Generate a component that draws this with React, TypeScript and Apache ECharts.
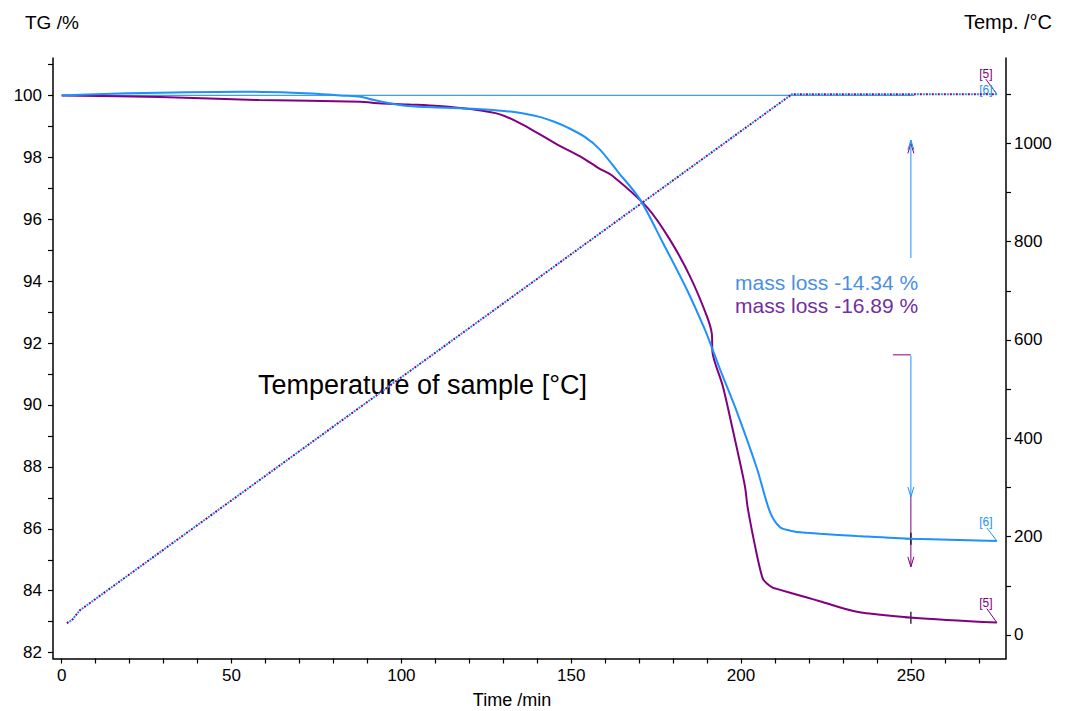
import React, { useEffect, useRef } from "react";
import * as echarts from "echarts";

// Sample [6] (blue) TG curve
const sample6Time = [0, 10, 29, 53, 68, 76, 82, 88, 92, 97, 102, 111, 121, 131, 136, 141, 145, 149, 154, 158.4, 164, 170.2, 176.9, 184, 189.3, 191.6, 194, 198.8, 204.7, 208.5, 211.4, 214.4, 216.4, 219.4, 223.2, 234.1, 250.6, 275.3];
const sample6TG = [100.0, 100.04, 100.09, 100.12, 100.09, 100.05, 100.0, 99.96, 99.85, 99.74, 99.66, 99.61, 99.57, 99.49, 99.42, 99.3, 99.15, 98.96, 98.66, 98.26, 97.5, 96.65, 95.26, 93.74, 92.45, 91.8, 91.1, 89.77, 87.94, 86.55, 86.06, 85.94, 85.9, 85.87, 85.84, 85.77, 85.68, 85.61];

// Sample [5] (purple) TG curve
const sample5Time = [0, 29, 58, 88, 92, 102, 111, 121, 129, 135.7, 145.8, 152.5, 158.4, 162.2, 172.3, 179, 184.9, 189.9, 191.4, 191.6, 194.6, 197.5, 201.1, 202, 204.7, 206.4, 207.6, 209.3, 210.5, 219.4, 223.2, 234.1, 250.6, 275.3];
const sample5TG = [100.0, 99.95, 99.85, 99.8, 99.76, 99.71, 99.66, 99.55, 99.39, 99.06, 98.42, 98.04, 97.63, 97.4, 96.39, 95.35, 94.17, 92.88, 92.3, 91.7, 90.62, 89.23, 87.4, 86.65, 85.14, 84.39, 84.23, 84.1, 84.06, 83.78, 83.66, 83.32, 83.13, 82.97];

// Temperature of sample
const tempTime = [1.5, 3, 5.3, 215, 275.3];
const tempValue = [24, 30, 50, 1100, 1100];

// 100 % reference line
const baselineTime = [0, 251];
const baselineTG = [100, 100];

// Axis ticks and labels
const timeLabelValues = [0, 50, 100, 150, 200, 250];
const timeTickValues = [0, 10, 20, 30, 40, 50, 60, 70, 80, 90, 100, 110, 120, 130, 140, 150, 160, 170, 180, 190, 200, 210, 220, 230, 240, 250, 260, 270];
const tgLabelValues = [82, 84, 86, 88, 90, 92, 94, 96, 98, 100];
const tgTickValues = [82, 83, 84, 85, 86, 87, 88, 89, 90, 91, 92, 93, 94, 95, 96, 97, 98, 99, 100, 101];
const tempLabelValues = [0, 200, 400, 600, 800, 1000];
const tempTickValues = [0, 100, 200, 300, 400, 500, 600, 700, 800, 900, 1000, 1100];

// Annotations
const massLossTexts = ["mass loss -14.34 %", "mass loss -16.89 %"];
const sampleIds = ["[6]", "[5]"];
const markerTime = 250;
const arrow6Levels = [98.56, 94.75, 91.59, 87.03];
const arrow5Levels = [98.45, 91.62, 87.03, 84.77];
const arrow5StubTime = 244.7;
const crossTG = [85.68, 83.13];

const BLUE = "#1E90FF";
const PURPLE = "#800080";
const FONT = "Liberation Sans, Arial, sans-serif";

const zip = (a: number[], b: number[]) => a.map((v, i) => [v, b[i]]);

export default function App() {
  const ref = useRef<HTMLDivElement>(null);
  useEffect(() => {
    if (!ref.current) return;
    const chart = echarts.init(ref.current, null, { renderer: "svg" });
    const axisLabelStyle = { color: "#000", fontSize: 17, fontFamily: FONT, formatter: (v: number) => String(v) };
    chart.setOption({
      animation: false,
      backgroundColor: "#fff",
      grid: { left: 53, right: 61, top: 58, bottom: 52.5, containLabel: false },
      xAxis: {
        type: "value",
        min: -2.56,
        max: 278,
        splitLine: { show: false },
        axisLine: { show: true, onZero: false, lineStyle: { color: "#000", width: 1.5 } },
        axisTick: { show: true, length: 5, customValues: timeTickValues, lineStyle: { color: "#000", width: 1.2 } },
        axisLabel: { ...axisLabelStyle, margin: 8, customValues: timeLabelValues },
      },
      yAxis: [
        {
          type: "value",
          position: "left",
          min: 81.81,
          max: 101.21,
          splitLine: { show: false },
          axisLine: { show: true, onZero: false, lineStyle: { color: "#000", width: 1.5 } },
          axisTick: { show: true, length: 5, customValues: tgTickValues, lineStyle: { color: "#000", width: 1.2 } },
          axisLabel: { ...axisLabelStyle, margin: 11, customValues: tgLabelValues },
        },
        {
          type: "value",
          position: "right",
          min: -47.8,
          max: 1173.5,
          splitLine: { show: false },
          axisLine: { show: true, onZero: false, lineStyle: { color: "#000", width: 1.5 } },
          axisTick: { show: true, length: 5, customValues: tempTickValues, lineStyle: { color: "#000", width: 1.2 } },
          axisLabel: { ...axisLabelStyle, margin: 8, customValues: tempLabelValues },
        },
      ],
      series: [
        {
          type: "line",
          name: "baseline",
          data: zip(baselineTime, baselineTG),
          showSymbol: false,
          silent: true,
          lineStyle: { color: "#3D9BFF", width: 1.3 },
        },
        {
          type: "line",
          name: "temp5",
          yAxisIndex: 1,
          data: zip(tempTime, tempValue),
          showSymbol: false,
          silent: true,
          lineStyle: { color: PURPLE, width: 2, type: [2, 4], dashOffset: 0 },
        },
        {
          type: "line",
          name: "temp6",
          yAxisIndex: 1,
          data: zip(tempTime, tempValue),
          showSymbol: false,
          silent: true,
          lineStyle: { color: BLUE, width: 2, type: [2, 4], dashOffset: 3 },
        },
        {
          type: "line",
          name: "TG5",
          data: zip(sample5Time, sample5TG),
          showSymbol: false,
          silent: true,
          smooth: 0.3,
          lineStyle: { color: PURPLE, width: 2 },
        },
        {
          type: "line",
          name: "TG6",
          data: zip(sample6Time, sample6TG),
          showSymbol: false,
          silent: true,
          smooth: 0.3,
          lineStyle: { color: BLUE, width: 2 },
        },
      ],
    });

    const px = (t: number, v: number, axis = 0) =>
      chart.convertToPixel({ xAxisIndex: 0, yAxisIndex: axis }, [t, v]) as number[];
    const line = (a: number[], b: number[], color: string, w = 1) => ({
      type: "line",
      shape: { x1: a[0], y1: a[1], x2: b[0], y2: b[1] },
      style: { stroke: color, lineWidth: w },
      silent: true,
    });
    const chevron = (p: number[], dir: number, color: string) => ({
      type: "polyline",
      shape: { points: [[p[0] - 3, p[1] + dir * 10], [p[0], p[1]], [p[0] + 3, p[1] + dir * 10]] },
      style: { stroke: color, lineWidth: 1, fill: "none" },
      silent: true,
    });
    const cross = (p: number[]) => [
      line([p[0] - 6, p[1]], [p[0] + 6, p[1]], "#000", 1.2),
      line([p[0], p[1] - 6], [p[0], p[1] + 6], "#000", 1.2),
    ];
    const text = (x: number, y: number, s: string, color: string, size: number, align = "left") => ({
      type: "text",
      x,
      y,
      silent: true,
      style: { text: s, fill: color, fontSize: size, fontFamily: FONT, textAlign: align, textVerticalAlign: "middle" },
    });

    const a6top = px(markerTime, arrow6Levels[0]);
    const a6start = px(markerTime, arrow6Levels[1]);
    const a6down = px(markerTime, arrow6Levels[2]);
    const a6end = px(markerTime, arrow6Levels[3]);
    const a5top = px(markerTime, arrow5Levels[0]);
    const a5stubL = px(arrow5StubTime, arrow5Levels[1]);
    const a5stubR = px(markerTime, arrow5Levels[1]);
    const a5start = px(markerTime, arrow5Levels[2]);
    const a5end = px(markerTime, arrow5Levels[3]);
    const c6 = px(markerTime, crossTG[0]);
    const c5 = px(markerTime, crossTG[1]);
    const e6 = px(sample6Time[sample6Time.length - 1], sample6TG[sample6TG.length - 1]);
    const e5 = px(sample5Time[sample5Time.length - 1], sample5TG[sample5TG.length - 1]);
    const eT = px(tempTime[tempTime.length - 1], tempValue[tempValue.length - 1], 1);

    chart.setOption({
      graphic: [
        text(25, 22, "TG /%", "#000", 19),
        text(1052, 22, "Temp. /°C", "#000", 20, "right"),
        text(512, 700, "Time /min", "#000", 18, "center"),
        text(735, 282, massLossTexts[0], "#4A90E2", 21),
        text(735, 305, massLossTexts[1], "#7030A0", 21),
        text(258, 385, "Temperature of sample [°C]", "#000", 27),
        chevron([a5top[0], a5top[1]], 1, PURPLE),
        line(a6top, a6start, BLUE),
        chevron(a6top, 1, BLUE),
        line(a5stubL, a5stubR, PURPLE),
        line(a6down, a6end, BLUE),
        chevron(a6end, -1, BLUE),
        line(a5start, a5end, PURPLE),
        chevron(a5end, -1, PURPLE),
        ...cross(c6),
        ...cross(c5),
        text(e6[0] - 11, e6[1] - 19, sampleIds[0], BLUE, 12, "center"),
        line([e6[0] - 10, e6[1] - 13], e6, BLUE),
        text(e5[0] - 11, e5[1] - 20, sampleIds[1], PURPLE, 12, "center"),
        line([e5[0] - 10, e5[1] - 14], e5, PURPLE),
        text(eT[0] - 11, eT[1] - 20.5, sampleIds[1], PURPLE, 12, "center"),
        line([eT[0] - 11, eT[1] - 15], eT, PURPLE),
        text(eT[0] - 11, eT[1] - 4, sampleIds[0], BLUE, 12, "center"),
        line([eT[0] - 5, eT[1] - 7], eT, BLUE),
      ],
    });

    return () => chart.dispose();
  }, []);

  return (
    <div
      ref={ref}
      style={{ position: "absolute", left: 0, top: 0, width: 1067, height: 711, background: "#fff" }}
    />
  );
}
